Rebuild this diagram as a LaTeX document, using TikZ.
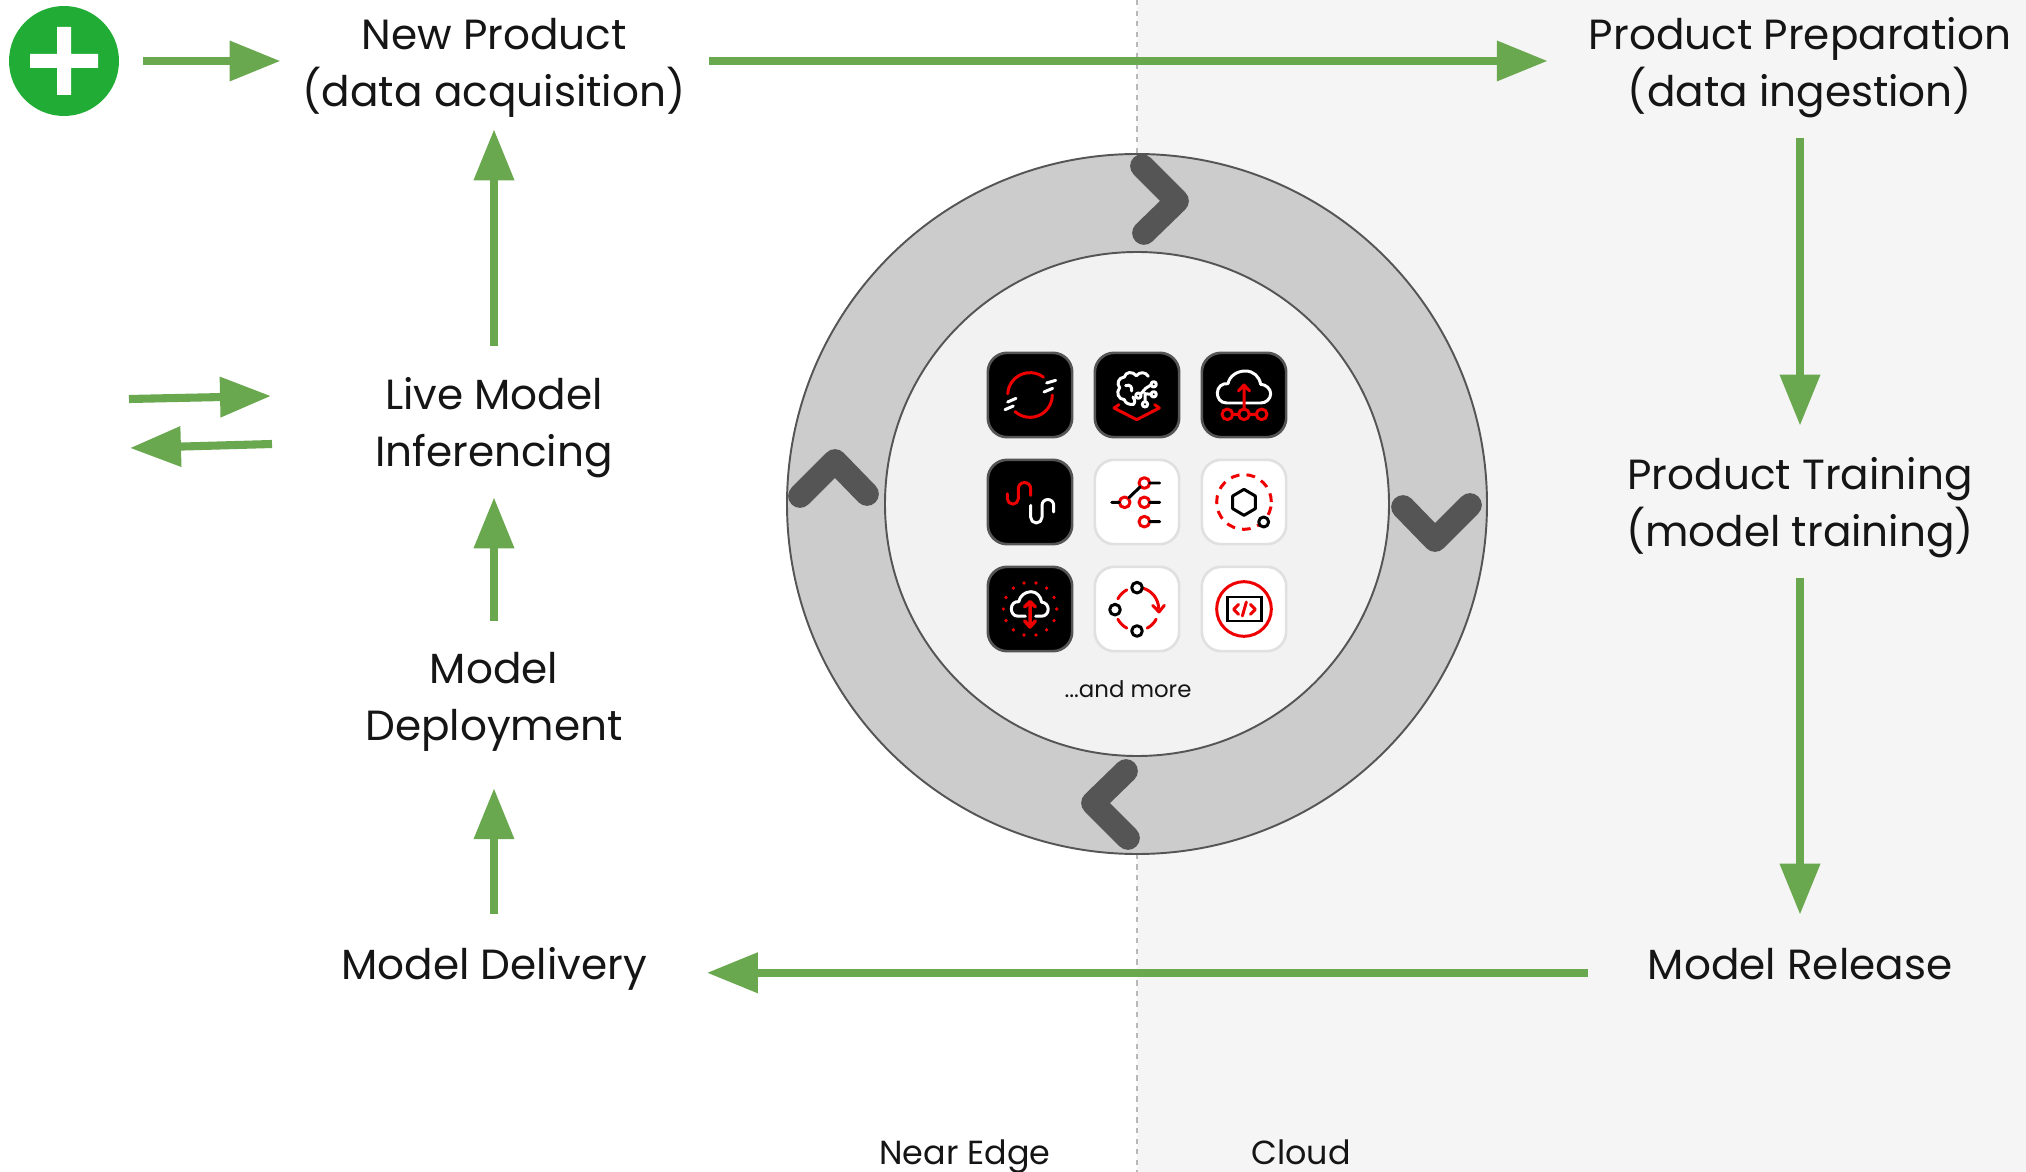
\documentclass[tikz,border=0pt]{standalone}
\usepackage{fontspec}
\setmainfont{Poppins}
\usetikzlibrary{arrows.meta}
\definecolor{flowgreen}{HTML}{6AA84F}
\definecolor{plusgreen}{HTML}{21AD35}
\definecolor{ringgrey}{HTML}{CCCCCC}
\definecolor{ringedge}{HTML}{555555}
\definecolor{cloudgrey}{HTML}{F5F5F5}
\definecolor{innergrey}{HTML}{F2F2F2}
\definecolor{iconred}{HTML}{EE0000}
\definecolor{inktext}{HTML}{151515}
\tikzset{
    step label/.style={text=inktext,align=center,inner sep=0pt,minimum height=62.6pt,font=\fontsize{24}{32.4}\selectfont},
    flow/.style={draw=flowgreen,line width=4.6pt,-{Triangle[length=29pt,width=22pt]}},
    darktile/.style={draw=ringedge,fill=black,line width=1.5pt,rounded corners=11pt,minimum size=48pt,inner sep=0pt},
    lighttile/.style={draw=black!12,fill=white,line width=1.5pt,rounded corners=11pt,minimum size=48pt,inner sep=0pt},
    icon/.style={shift={(#1)},x=0.006667cm,y=0.006667cm,line width=1.7pt,line cap=round,line join=round},
}
\begin{document}
\begin{tikzpicture}[x=0.02cm,y=-0.02cm]
    \useasboundingbox (0,0) rectangle (2026,1172);
    \fill[cloudgrey] (1137,0) rectangle (2026,1172);
    \draw[black!28,line width=1.3pt,dashed] (1137,0) -- (1137,1172);

    % ring
    \coordinate (hub) at (1137,504);
    \filldraw[fill=ringgrey,draw=ringedge,line width=1.1pt] (hub) circle (350);
    \filldraw[fill=innergrey,draw=ringedge,line width=1.1pt] (hub) circle (252);
    \foreach \a/\dx/\dy in {0/0/0,90/-5/-4,180/-4/-4,270/1/-3} {
        \begin{scope}[shift={(hub)},shift={(\dx,\dy)},rotate=-\a]
            \draw[ringedge,line width=13.5pt,line cap=round,line join=round] (5,-338) -- (40,-303) -- (7,-271);
        \end{scope}
    }

    % steps
    \node[step label] (newproduct) at (494,68) {New Product\\(data acquisition)};
    \node[step label] (preparation) at (1800,68) {Product Preparation\\(data ingestion)};
    \node[step label] (training) at (1800,508) {Product Training\\(model training)};
    \node[step label] (release) at (1800,964) {Model Release};
    \node[step label] (delivery) at (494,969) {Model Delivery};
    \node[step label] (deployment) at (494,702) {Model\\Deployment};
    \node[step label] (live) at (494,428) {Live Model\\Inferencing};
    \node[circle,fill=plusgreen,minimum size=62.6pt,inner sep=0pt,outer sep=0pt] (plus) at (64,61) {};
    \fill[white] (57,27) rectangle (71,95) (30,54) rectangle (98,68);

    \coordinate (outfrom) at (129,399);
    \coordinate (outto) at (271,396);
    \coordinate (infrom) at (272,444);
    \coordinate (into) at (130,448);

    % connectors
    \draw[flow,shorten <=13.7pt,shorten >=12.5pt] (plus.east) -- (plus.east -| newproduct.west);
    \draw[flow,shorten <=13.1pt,shorten >=23.3pt] ([yshift=4pt]newproduct.east) -- ([yshift=4pt]preparation.west);
    \draw[flow,shorten <=8.5pt,shorten >=15.4pt] (preparation.south) -- (training.north);
    \draw[flow,shorten <=8.5pt,shorten >=-3.4pt] (training.south) -- (release.north);
    \draw[flow,shorten <=34pt,shorten >=34pt] ([yshift=-5pt]release.west) -- ([yshift=-5pt]release.west -| delivery.east);
    \draw[flow,shorten >=17.6pt] (delivery.north) -- (deployment.south);
    \draw[flow,shorten <=14.8pt,shorten >=8pt] (deployment.north) -- (live.south);
    \draw[flow,shorten <=15.4pt,shorten >=3.4pt] (live.north) -- (newproduct.south);
    \draw[flow] (outfrom) -- (outto);
    \draw[flow] (infrom) -- (into);

    % tiles
    \node[darktile] (tilea) at (1030,395) {};
    \node[darktile] (tileb) at (1137,395) {};
    \node[darktile] (tilec) at (1244,395) {};
    \node[darktile] (tiled) at (1030,502) {};
    \node[lighttile] (tilee) at (1137,502) {};
    \node[lighttile] (tilef) at (1244,502) {};
    \node[darktile] (tileg) at (1030,609) {};
    \node[lighttile] (tileh) at (1137,609) {};
    \node[lighttile] (tilei) at (1244,609) {};

    \begin{scope}[icon=tilea]
        \draw[iconred] (177:67) arc (177:53:67);
        \draw[iconred] (0:67) arc (0:-132:67);
        \draw[white] (50,36) -- (77,44) (42,9) -- (68,20) (-67,-21) -- (-42,-10) (-75,-44) -- (-50,-33);
    \end{scope}
    \begin{scope}[icon=tileb]
        \draw[iconred] (-54,-29) -- (-69,-39) -- (-1,-74) -- (67,-39) -- (53,-29);
        \draw[white] (-2,58) .. controls (-14,72) and (-34,70) .. (-38,54) .. controls (-56,52) and (-62,34) .. (-52,22) .. controls (-64,8) and (-56,-14) .. (-38,-14) .. controls (-36,-24) and (-24,-30) .. (-10,-28) .. controls (-4,-20) and (-8,-10) .. (-12,-6);
        \draw[white] (-2,58) .. controls (8,70) and (26,70) .. (34,56);
        \draw[white] (-34,28) .. controls (-20,34) and (-14,22) .. (-16,12);
        \draw[white] (4,-2) circle (8) (50,32) circle (8) (50,2) circle (8) (24,-28) circle (8);
        \draw[white] (11,3) -- (26,20) -- (42,30) (24,-20) -- (24,4) -- (42,2);
    \end{scope}
    \begin{scope}[icon=tilec]
        \draw[white] (-52,-24) .. controls (-72,-24) and (-80,-8) .. (-80,6) .. controls (-80,24) and (-66,36) .. (-48,34) .. controls (-44,56) and (-22,72) .. (4,72) .. controls (28,72) and (46,56) .. (50,32) .. controls (66,32) and (80,18) .. (80,4) .. controls (80,-12) and (66,-24) .. (50,-24) -- cycle;
        \draw[iconred] (0,-42) -- (0,30) (-17,12) -- (0,30) -- (17,12);
        \draw[iconred] (-50,-58) circle (16) (0,-58) circle (16) (53,-58) circle (16) (-34,-58) -- (-16,-58) (16,-58) -- (37,-58);
    \end{scope}
    \begin{scope}[icon=tiled]
        \draw[iconred] (2,20) -- (2,40) arc (0:180:18.5) -- (-35,10) arc (360:180:16.5) -- (-68,25);
        \draw[white] (2,-10) -- (2,-46) arc (180:360:17) -- (36,-10) arc (180:0:17.5) -- (71,-30);
    \end{scope}
    \begin{scope}[icon=tilee]
        \draw[iconred] (-37,-1) circle (16) (22,57) circle (16) (22,-1) circle (16) (22,-59) circle (16);
        \draw[black] (-76,-1) -- (-53,-1) (-24,13) -- (9,45) (38,57) -- (68,57) (38,-1) -- (68,-1) (38,-59) -- (68,-59);
    \end{scope}
    \begin{scope}[icon=tilef]
        \draw[iconred,dash pattern=on 5pt off 4pt,line cap=butt] (0,0) circle (82);
        \draw[black] (0,38) -- (34,18) -- (34,-20) -- (0,-40) -- (-34,-20) -- (-34,18) -- cycle;
        \draw[black,fill=white] (59,-60) circle (15);
    \end{scope}
    \begin{scope}[icon=tileg]
        \foreach \d in {0,...,13} { \fill[iconred] ({\d*360/14}:80) circle (5.5); }
        \begin{scope}[xscale=0.7,yscale=0.75,yshift=-0.9pt]
            \draw[white] (-20,-24) -- (-52,-24) .. controls (-72,-24) and (-80,-8) .. (-80,6) .. controls (-80,24) and (-66,36) .. (-48,34) .. controls (-44,56) and (-22,74) .. (4,74) .. controls (28,74) and (46,56) .. (50,32) .. controls (66,32) and (78,18) .. (78,4) .. controls (78,-12) and (66,-24) .. (50,-24) -- (24,-24);
        \end{scope}
        \draw[iconred,line width=2pt] (0,-50) -- (0,20) (-16,6) -- (0,22) -- (16,6) (-16,-36) -- (0,-54) -- (16,-36);
    \end{scope}
    \begin{scope}[icon=tileh]
        \draw[iconred] (74:65) arc (74:2:65) (-28:65) arc (-28:-62:65) (-118:65) arc (-118:-152:65) (152:65) arc (152:118:65);
        \draw[iconred] (47,11) -- (66,-9) -- (82,11);
        \draw[black] (0,64) circle (16) (-66,-2) circle (16) (0,-66) circle (16);
    \end{scope}
    \begin{scope}[icon=tilei]
        \draw[iconred] (0,0) circle (82);
        \draw[black,line cap=butt,line join=miter] (-51,36) rectangle (52,-36);
        \draw[iconred] (-16,14) -- (-31,-1) -- (-16,-16) (7,21) -- (-5,-21) (19,14) -- (34,-1) -- (19,-16);
    \end{scope}

    \node[text=inktext,font=\fontsize{13}{15}\selectfont] (more) at (1128,689) {...and more};
    \node[text=inktext,anchor=base,font=\fontsize{19}{21}\selectfont] (nearedge) at (965,1164) {Near Edge};
    \node[text=inktext,anchor=base,font=\fontsize{19}{21}\selectfont] (cloud) at (1301,1164) {Cloud};
\end{tikzpicture}
\end{document}
